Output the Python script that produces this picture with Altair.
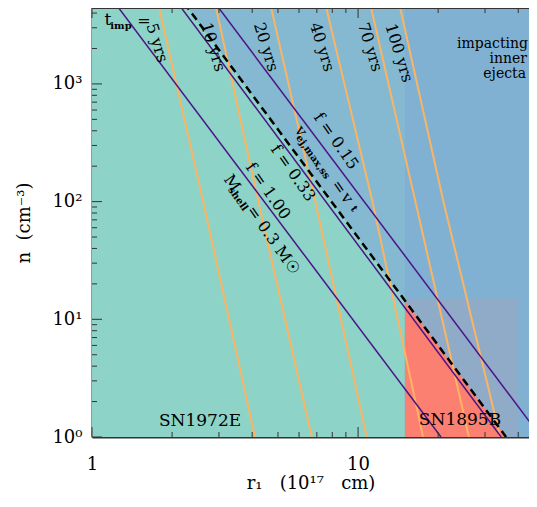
import altair as alt
import pandas as pd
import math

# ---------------- values ----------------
# x: r1 (1e17 cm), y: n (cm^-3); both logarithmic
X_DOMAIN = [1.0, 43.9]
Y_DOMAIN = [1.0, 4416.0]

# impact-time curves (orange): radius at three densities
T_IMP_NAMES = ["5 yrs", "10 yrs", "20 yrs", "40 yrs", "70 yrs", "100 yrs"]
T_IMP_DENSITY = [4870.0, 103.0, 1.0]
T_IMP_RADIUS = [
    [1.77, 2.61, 4.10],
    [2.90, 4.21, 6.70],
    [4.67, 6.89, 10.78],
    [7.52, 11.29, 17.55],
    [11.09, 16.38, 26.1],
    [14.26, 20.87, 34.2],
]

# constant shell-mass / filling-factor lines (purple): radius at n=4870 and n=1
SHELL_NAMES = ["f = 1.00 (M_shell = 0.3 Msun)", "f = 0.33", "f = 0.15"]
SHELL_DENSITY = [4870.0, 1.0]
SHELL_RADIUS = [[1.22, 20.5], [2.10, 34.5], [2.90, 48.7]]

# v_ej,max,ss = v_t boundary (dashed)
VT_DENSITY = [4870.0, 1.0]
VT_RADIUS = [2.22, 36.0]

# regions
SPLIT_R = 15.0              # hatched inner-ejecta zone ends / SN1895B starts
SN1895B_R = [15.0, 40.0]
SN1895B_N = [1.0, 15.0]

# ticks
X_LABELLED = [1, 10]
X_MINOR = [2, 3, 4, 5, 6, 7, 8, 9, 20, 30, 40]
Y_LABELLED = [1, 10, 100, 1000]
Y_MINOR = [2, 3, 4, 5, 6, 7, 8, 9, 20, 30, 40, 50, 60, 70, 80, 90,
           200, 300, 400, 500, 600, 700, 800, 900, 2000, 3000, 4000]

# ---------------- styling ----------------
W, H = 437, 429
FONT = "DejaVu Serif"
TEAL = "#8DD3C7"
BLUE = "#80B1D3"
BLUE_HATCH = "#84B9D1"
RED = "#FB8072"
RED_HATCH = "#8FABC7"
ORANGE = "#FDB462"
PURPLE = "#4B1489"
AXIS = "#333333"
SP = "\u00a0"

xs = alt.Scale(type="log", domain=X_DOMAIN, nice=False)
ys = alt.Scale(type="log", domain=Y_DOMAIN, nice=False)
DUMMY = pd.DataFrame({"a": [0]})

# ---------------- regions ----------------
bg_df = pd.DataFrame({"x": [X_DOMAIN[0]], "x2": [X_DOMAIN[1]],
                      "y": [Y_DOMAIN[0]], "y2": [Y_DOMAIN[1]]})
background = alt.Chart(bg_df).mark_rect(color=BLUE_HATCH).encode(
    x=alt.X("x:Q", scale=xs, axis=alt.Axis(
        values=X_LABELLED, labelExpr="datum.value + ''", ticks=False, grid=False,
        domainColor=AXIS, domainWidth=2, labelFont=FONT, labelFontSize=18,
        labelColor="black", labelPadding=18,
        title="r\u2081" + SP * 3 + "(10\u00b9\u2077" + SP * 3 + "cm)",
        titleFont=FONT, titleFontSize=18, titleFontWeight="normal",
        titleColor="black", titlePadding=1, labelFlush=False)),
    x2="x2:Q",
    y=alt.Y("y:Q", scale=ys, axis=alt.Axis(
        values=Y_LABELLED,
        labelExpr="datum.value == 1 ? '10\u2070' : datum.value == 10 ? '10\u00b9' : datum.value == 100 ? '10\u00b2' : '10\u00b3'",
        ticks=False, grid=False, domainColor=AXIS, domainWidth=2,
        labelFont=FONT, labelFontSize=18, labelColor="black", labelPadding=10,
        title="n" + SP * 2 + "(cm\u207b\u00b3)", titleFont=FONT, titleFontSize=18,
        titleFontWeight="normal", titleColor="black", titlePadding=18,
        labelFlush=False)),
    y2="y2:Q",
)

teal_df = pd.DataFrame({"n": VT_DENSITY, "r0": [X_DOMAIN[0]] * 2, "r": VT_RADIUS})
teal = alt.Chart(teal_df).mark_area(orient="horizontal", color=TEAL, clip=True).encode(
    y=alt.Y("n:Q", scale=ys), x=alt.X("r0:Q", scale=xs), x2="r:Q")

solid_df = pd.DataFrame({"x": [SPLIT_R], "x2": [X_DOMAIN[1]],
                         "y": [Y_DOMAIN[0]], "y2": [Y_DOMAIN[1]]})
solid_blue = alt.Chart(solid_df).mark_rect(color=BLUE).encode(
    x=alt.X("x:Q", scale=xs), x2="x2:Q", y=alt.Y("y:Q", scale=ys), y2="y2:Q")

rh_df = pd.DataFrame({"x": [SN1895B_R[0]], "x2": [SN1895B_R[1]],
                      "y": [SN1895B_N[0]], "y2": [SN1895B_N[1]]})
red_hatch = alt.Chart(rh_df).mark_rect(color=RED_HATCH).encode(
    x=alt.X("x:Q", scale=xs), x2="x2:Q", y=alt.Y("y:Q", scale=ys), y2="y2:Q")

# solid red: SN1895B zone below the dashed boundary
lt, lb = math.log10(VT_RADIUS[0]), math.log10(VT_RADIUS[1])
nt, nb = math.log10(VT_DENSITY[0]), math.log10(VT_DENSITY[1])
n_cross = 10 ** (nt - (math.log10(SN1895B_R[0]) - lt) * (nt - nb) / (lb - lt))
red_df = pd.DataFrame({"n": [SN1895B_N[0], n_cross],
                       "r0": [SN1895B_R[0], SN1895B_R[0]],
                       "r": [VT_RADIUS[1], SN1895B_R[0]]})
red = alt.Chart(red_df).mark_area(orient="horizontal", color=RED, clip=True).encode(
    y=alt.Y("n:Q", scale=ys), x=alt.X("r0:Q", scale=xs), x2="r:Q")

# ---------------- lines ----------------
orange_rows = []
for name, radii in zip(T_IMP_NAMES, T_IMP_RADIUS):
    for i, (r, n) in enumerate(zip(radii, T_IMP_DENSITY)):
        orange_rows.append({"line": name, "r": r, "n": n, "o": i})
orange = alt.Chart(pd.DataFrame(orange_rows)).mark_line(
    color=ORANGE, strokeWidth=2, clip=True).encode(
    x=alt.X("r:Q", scale=xs), y=alt.Y("n:Q", scale=ys), detail="line:N", order="o:Q")

purple_rows = []
for name, radii in zip(SHELL_NAMES, SHELL_RADIUS):
    for i, (r, n) in enumerate(zip(radii, SHELL_DENSITY)):
        purple_rows.append({"line": name, "r": r, "n": n, "o": i})
purple = alt.Chart(pd.DataFrame(purple_rows)).mark_line(
    color=PURPLE, strokeWidth=1.5, clip=True).encode(
    x=alt.X("r:Q", scale=xs), y=alt.Y("n:Q", scale=ys), detail="line:N", order="o:Q")

dashed = alt.Chart(pd.DataFrame({"r": VT_RADIUS, "n": VT_DENSITY})).mark_line(
    color="black", strokeWidth=2.5, strokeDash=[8, 5], clip=True).encode(
    x=alt.X("r:Q", scale=xs), y=alt.Y("n:Q", scale=ys))

# ---------------- inward ticks ----------------
def xticks(vals, length):
    d = pd.DataFrame({"v": vals})
    bot = alt.Chart(d).mark_rule(color=AXIS, strokeWidth=1).encode(
        x=alt.X("v:Q", scale=xs), y=alt.value(H), y2=alt.value(H - length))
    top = alt.Chart(d).mark_rule(color=AXIS, strokeWidth=1).encode(
        x=alt.X("v:Q", scale=xs), y=alt.value(0), y2=alt.value(length))
    return [bot, top]

def yticks(vals, length):
    d = pd.DataFrame({"v": vals})
    left = alt.Chart(d).mark_rule(color=AXIS, strokeWidth=1).encode(
        y=alt.Y("v:Q", scale=ys), x=alt.value(0), x2=alt.value(length))
    return [left]

ticks = xticks(X_LABELLED, 10) + xticks(X_MINOR, 5) + yticks(Y_LABELLED, 10) + yticks(Y_MINOR, 5)

top_border = alt.Chart(DUMMY).mark_rule(color=AXIS, strokeWidth=2).encode(
    x=alt.value(0), x2=alt.value(W), y=alt.value(0))

# ---------------- annotations (page pixel positions) ----------------
OX, OY = 92, 8

def txt(text, px, py, size=16, angle=0, align="center", baseline="middle",
        weight="normal", line_height=None):
    kw = dict(text=text, font=FONT, fontSize=size, angle=angle, align=align,
              baseline=baseline, fontWeight=weight, color="black")
    if line_height is not None:
        kw["lineHeight"] = line_height
    return alt.Chart(DUMMY).mark_text(**kw).encode(
        x=alt.value(px - OX), y=alt.value(py - OY))

YRS_ANGLE = 73
F_ANGLE = 55
texts = [
    txt("t", 108, 20, 17),
    txt("imp", 121, 26, 10, weight="bold"),
    txt("=", 144, 21, 16),
    txt("5 yrs", 157, 43, 16, YRS_ANGLE),
    txt("10 yrs", 213, 47, 16, YRS_ANGLE),
    txt("20 yrs", 266, 47, 16, YRS_ANGLE),
    txt("40 yrs", 322, 47, 16, YRS_ANGLE),
    txt("70 yrs", 370, 47, 16, YRS_ANGLE),
    txt("100 yrs", 399, 53, 16, YRS_ANGLE),
    txt("f = 0.15", 336, 141, 16, F_ANGLE),
    txt("f = 0.33", 293, 173, 16, F_ANGLE),
    txt("f = 1.00", 268, 191, 16, F_ANGLE),
    txt("v", 301, 131, 16, F_ANGLE),
    txt("ej,max,ss", 313, 157, 10, F_ANGLE, weight="bold"),
    txt("=", 339, 187, 16, F_ANGLE),
    txt("v", 347, 198, 16, F_ANGLE),
    txt("t", 354, 209, 10, F_ANGLE, weight="bold"),
    txt("M", 232, 183, 16, F_ANGLE),
    txt("shell", 238, 199, 10, F_ANGLE, weight="bold"),
    txt("= 0.3 M\u2609", 273, 240, 16, F_ANGLE),
    txt("impacting", 528, 48, 14, align="right", baseline="alphabetic"),
    txt("inner", 527, 63, 14, align="right", baseline="alphabetic"),
    txt("ejecta", 526, 78, 14, align="right", baseline="alphabetic"),
    txt("SN1972E", 200, 426, 17, baseline="alphabetic"),
    txt("SN1895B", 460, 425, 17, baseline="alphabetic"),
]

chart = alt.layer(
    background, teal, solid_blue, red_hatch, red, orange, purple, dashed,
    *ticks, top_border, *texts
).properties(
    width=W, height=H,
    padding={"left": 84, "top": 0, "right": 0, "bottom": 57},
    autosize=alt.AutoSizeParams(type="none"),
).configure_view(strokeWidth=0)

chart.save("out.html", embed_options={"renderer": "svg", "actions": False})
